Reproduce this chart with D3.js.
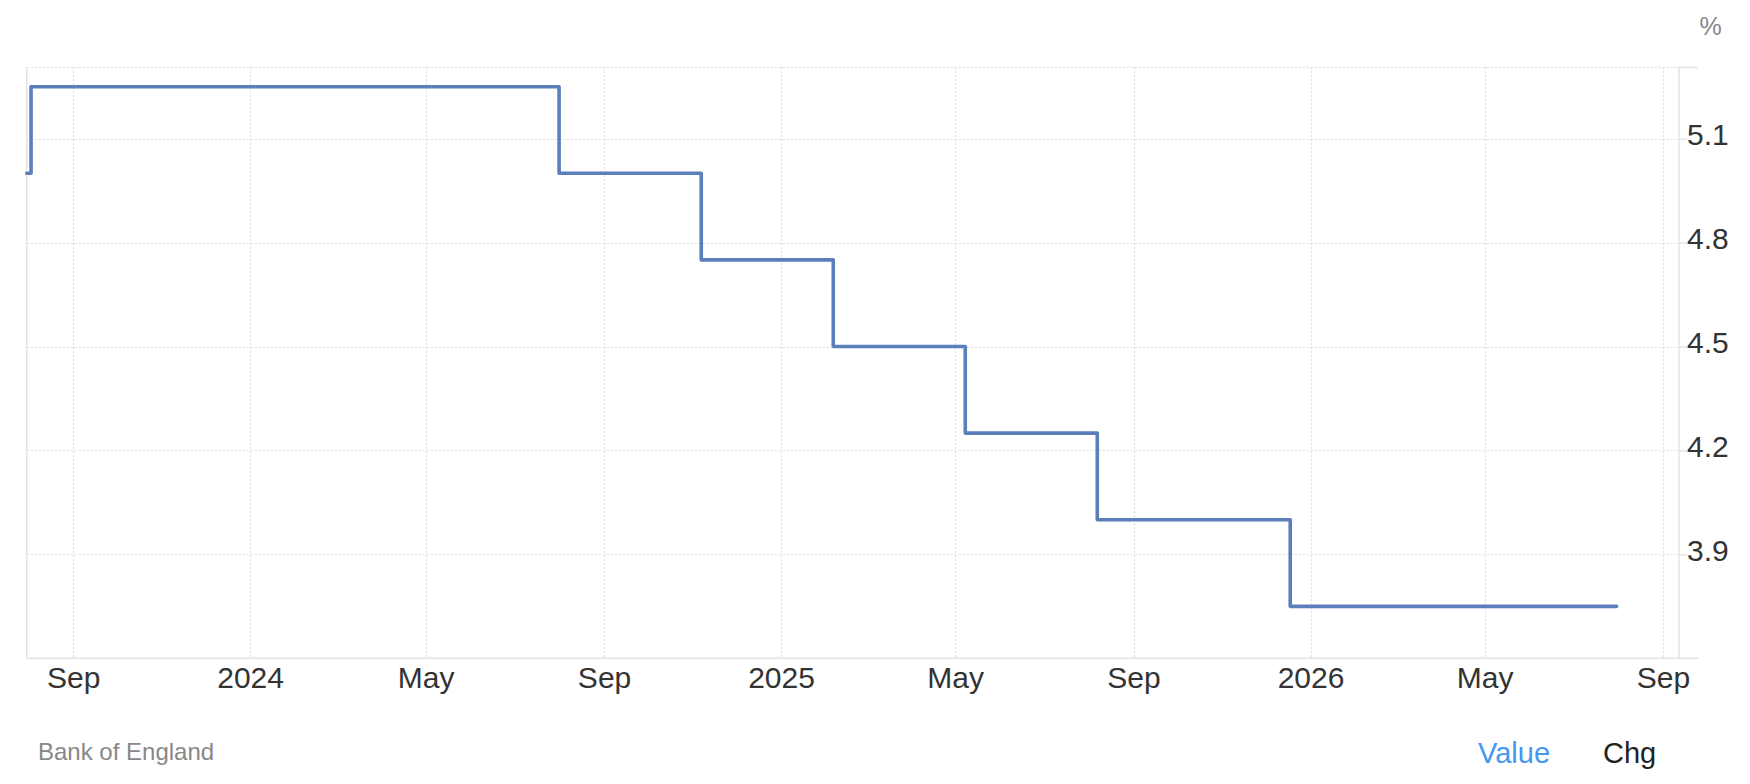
<!DOCTYPE html>
<html>
<head>
<meta charset="utf-8">
<script src="https://cdn.jsdelivr.net/npm/d3@7"></script>
<style>
  html, body { margin: 0; padding: 0; background: #fff; }
  svg { display: block; font-family: "Liberation Sans", Arial, Helvetica, sans-serif; }
</style>
</head>
<body>
<svg id="chart" width="1750" height="784"></svg>
<script>
// ---- data ----
const dates = ["2023-07-31","2023-08-03","2024-08-01","2024-11-07","2025-02-06","2025-05-08","2025-08-07","2025-12-18","2026-07-31"];
const rates = [5.0, 5.25, 5.0, 4.75, 4.5, 4.25, 4.0, 3.75, 3.75];
const yTicks = [3.9, 4.2, 4.5, 4.8, 5.1];
const yTickLabels = ["3.9", "4.2", "4.5", "4.8", "5.1"];
const xTickDates = ["2023-09-01","2024-01-01","2024-05-01","2024-09-01","2025-01-01","2025-05-01","2025-09-01","2026-01-01","2026-05-01","2026-09-01"];
const xTickLabels = ["Sep","2024","May","Sep","2025","May","Sep","2026","May","Sep"];
const xDomain = ["2023-07-31", "2026-09-12"];
const yDomain = [3.6, 5.306];
const unitLabel = "%";
const sourceLabel = "Bank of England";
const toggles = ["Value", "Chg"];

(function () {
// ---- layout ----
const parse = d3.utcParse("%Y-%m-%d");
const pLeft = 26.7, pRight = 1679, pTop = 67.3, pBottom = 658.3;
const svg = d3.select("#chart");

const x = d3.scaleUtc().domain(xDomain.map(parse)).range([pLeft, pRight]);
const y = d3.scaleLinear().domain(yDomain).range([pBottom, pTop]);

const gridColor = "#dcdcdc";
const axisColor = "#e3e3e3";

// vertical gridlines
svg.append("g").selectAll("line").data(xTickDates.map(parse)).join("line")
  .attr("x1", d => Math.round(x(d)) + 0.5).attr("x2", d => Math.round(x(d)) + 0.5)
  .attr("y1", pTop).attr("y2", pBottom)
  .attr("stroke", gridColor).attr("stroke-width", 1.2).attr("stroke-dasharray", "2,2");

// horizontal gridlines (ticks + top border)
svg.append("g").selectAll("line").data(yTicks.concat([yDomain[1]])).join("line")
  .attr("x1", pLeft).attr("x2", pRight)
  .attr("y1", d => Math.round(y(d)) + 0.5).attr("y2", d => Math.round(y(d)) + 0.5)
  .attr("stroke", gridColor).attr("stroke-width", 1.2).attr("stroke-dasharray", "2,2");

// axis frame lines
const frame = svg.append("g").attr("stroke", axisColor).attr("stroke-width", 1.5);
frame.append("line").attr("x1", pLeft).attr("x2", pLeft).attr("y1", pTop).attr("y2", pBottom);
frame.append("line").attr("x1", pRight).attr("x2", pRight).attr("y1", pTop).attr("y2", pBottom);
frame.append("line").attr("x1", pLeft).attr("x2", 1698).attr("y1", pBottom).attr("y2", pBottom);
frame.append("line").attr("x1", pRight).attr("x2", 1698)
  .attr("y1", Math.round(y(yDomain[1])) + 0.5).attr("y2", Math.round(y(yDomain[1])) + 0.5);

// x axis
const xAxis = d3.axisBottom(x)
  .tickValues(xTickDates.map(parse))
  .tickFormat((d, i) => xTickLabels[i])
  .tickSize(0).tickPadding(8.4);
const gx = svg.append("g").attr("transform", `translate(0,${pBottom})`).call(xAxis);
gx.select(".domain").remove();
gx.selectAll("text").attr("font-size", 30).attr("fill", "#333")
  .attr("font-family", "\"Liberation Sans\", Arial, sans-serif");

// y axis (right)
const yAxis = d3.axisRight(y)
  .tickValues(yTicks)
  .tickFormat((d, i) => yTickLabels[i])
  .tickSize(8).tickPadding(0);
const gy = svg.append("g").attr("transform", `translate(${pRight},0)`).call(yAxis);
gy.select(".domain").remove();
gy.selectAll(".tick line").attr("stroke", axisColor).attr("stroke-width", 1.5);
gy.selectAll("text").attr("font-size", 30).attr("fill", "#333").attr("dy", "0.2em")
  .attr("font-family", "\"Liberation Sans\", Arial, sans-serif");

// unit label
svg.append("text").attr("x", 1710.5).attr("y", 35).attr("text-anchor", "middle")
  .attr("font-size", 25).attr("fill", "#888").text(unitLabel);

// step line
const line = d3.line()
  .x((d, i) => x(parse(dates[i])))
  .y(d => y(d))
  .curve(d3.curveStepAfter);
svg.append("path").datum(rates)
  .attr("d", line)
  .attr("fill", "none")
  .attr("stroke", "#5a7fba")
  .attr("stroke-width", 3.6)
  .attr("stroke-linejoin", "round")
  .attr("stroke-linecap", "round");

// footer
svg.append("text").attr("x", 38).attr("y", 760)
  .attr("font-size", 24).attr("fill", "#888").text(sourceLabel);
svg.append("text").attr("x", 1478).attr("y", 763)
  .attr("font-size", 29).attr("fill", "#4597f0").text(toggles[0]);
svg.append("text").attr("x", 1603).attr("y", 763)
  .attr("font-size", 29).attr("fill", "#222").text(toggles[1]);
})();
</script>
</body>
</html>
